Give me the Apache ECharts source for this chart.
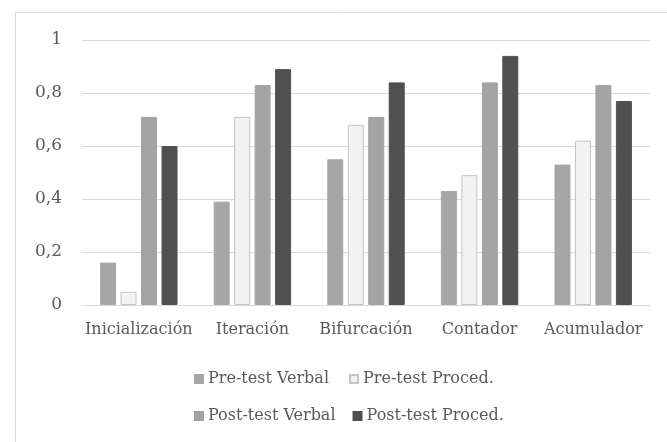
<!DOCTYPE html>
<html><head><meta charset="utf-8">
<script src="https://cdn.jsdelivr.net/npm/echarts@6/dist/echarts.min.js"></script>
<style>html,body{margin:0;padding:0;background:#fff}#c{width:667px;height:442px}</style>
</head><body><div id="c"></div>
<script>
const categories = ['Inicialización', 'Iteración', 'Bifurcación', 'Contador', 'Acumulador'];
const seriesNames = ['Pre-test Verbal', 'Pre-test Proced.', 'Post-test Verbal', 'Post-test Proced.'];
const preVerbal = [0.16, 0.39, 0.55, 0.43, 0.53];
const preProced = [0.05, 0.71, 0.68, 0.49, 0.62];
const postVerbal = [0.71, 0.83, 0.71, 0.84, 0.83];
const postProced = [0.60, 0.89, 0.84, 0.94, 0.77];
const yTicks = [0, 0.2, 0.4, 0.6, 0.8, 1];

const colors = ['#a6a6a6', '#f2f2f2', '#a3a3a3', '#505050'];
const borders = ['#a6a6a6', '#c4c4c4', '#a3a3a3', '#505050'];
const values = [preVerbal, preProced, postVerbal, postProced];
const font = 'DejaVu Serif';
const textColor = '#595959';

const chart = echarts.init(document.getElementById('c'), null, {renderer: 'canvas'});
chart.setOption({
  animation: false,
  backgroundColor: '#fff',
  textStyle: {fontFamily: font},
  graphic: [{type: 'rect', shape: {x: 15.5, y: 12.5, width: 670, height: 440}, style: {fill: 'none', stroke: '#d9d9d9', lineWidth: 1}}],
  grid: {left: 82, right: 17, top: 40, bottom: 137, containLabel: false},
  legend: [
    {data: seriesNames.slice(0, 2), left: 189, top: 366, itemGap: 20, itemWidth: 8, itemHeight: 8, icon: 'rect',
     textStyle: {fontFamily: font, fontSize: 16, color: textColor}},
    {data: seriesNames.slice(2, 4), left: 189, top: 403, itemGap: 17, itemWidth: 8, itemHeight: 8, icon: 'rect',
     textStyle: {fontFamily: font, fontSize: 16, color: textColor}}
  ],
  xAxis: {
    type: 'category', data: categories,
    axisLine: {lineStyle: {color: '#d9d9d9'}}, axisTick: {show: false},
    axisLabel: {fontFamily: font, fontSize: 16, color: textColor, margin: 17, interval: 0, hideOverlap: false}
  },
  yAxis: {
    type: 'value', min: 0, max: 1, interval: 0.2,
    axisLine: {show: false}, axisTick: {show: false},
    splitLine: {lineStyle: {color: '#d9d9d9'}},
    axisLabel: {fontFamily: font, fontSize: 17, color: textColor, margin: 20,
      formatter: v => { const t = yTicks.find(x => Math.abs(x - v) < 1e-9); return String(+((t ?? v).toFixed(1))).replace('.', ','); }}
  },
  series: values.map((d, i) => ({
    name: seriesNames[i], type: 'bar', data: d, barWidth: 16, barGap: '28%',
    itemStyle: {color: colors[i], borderColor: borders[i], borderWidth: 1}
  }))
});
</script></body></html>
